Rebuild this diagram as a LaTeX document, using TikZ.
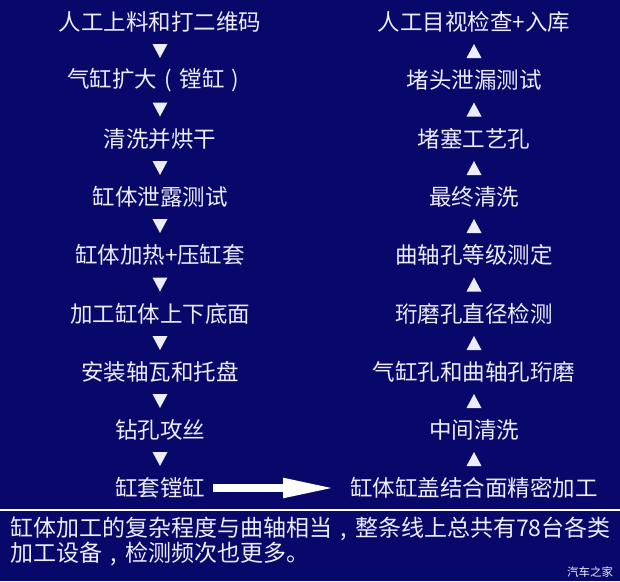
\documentclass[tikz,border=0pt]{standalone}
\usepackage{fontspec}
\usepackage{tikz}
\usetikzlibrary{arrows.meta}
\newfontfamily\cjk{Noto Sans CJK SC}
\definecolor{navybg}{RGB}{8,8,106}
\definecolor{txtwhite}{RGB}{236,236,250}
\tikzset{
  steptext/.style={text=txtwhite, inner sep=0pt, font=\cjk\fontsize{22.5}{26}\selectfont},
  notetext/.style={text=txtwhite, inner sep=0pt, anchor=west, font=\cjk\fontsize{23}{27}\selectfont},
  marker/.style={fill=txtwhite},
  bigarrow/.style={draw=white, line width=8pt, -{Triangle[length=53pt, width=18pt]}}
}

\begin{document}
\begin{tikzpicture}[x=1pt, y=-1pt]

  % Background
  \fill[navybg] (0,0) rectangle (620,581);
  \useasboundingbox (0,0) rectangle (620,581);

  % Left column (top to bottom)
  \node[steptext] (l1) at (160,22)  {人工上料和打二维码};
  \node[steptext] (l2) at (157,80)  {气缸扩大\makebox[1em]{(}镗缸\makebox[1em]{)}};
  \node[steptext] (l3) at (160,139) {清洗并烘干};
  \node[steptext] (l4) at (160,197) {缸体泄露测试};
  \node[steptext] (l5) at (160,255) {缸体加热+压缸套};
  \node[steptext] (l6) at (160,314) {加工缸体上下底面};
  \node[steptext] (l7) at (160,372) {安装轴瓦和托盘};
  \node[steptext] (l8) at (160,430) {钻孔攻丝};
  \node[steptext] (l9) at (160,488) {缸套镗缸};

  % Down markers
  \fill[marker] (152.5,44)  -- ++(15,0) -- ++(-7.5,14) -- cycle;
  \fill[marker] (152.5,102.5) -- ++(15,0) -- ++(-7.5,14) -- cycle;
  \fill[marker] (152.5,161) -- ++(15,0) -- ++(-7.5,14) -- cycle;
  \fill[marker] (152.5,219) -- ++(15,0) -- ++(-7.5,14) -- cycle;
  \fill[marker] (152.5,277.5) -- ++(15,0) -- ++(-7.5,14) -- cycle;
  \fill[marker] (152.5,336) -- ++(15,0) -- ++(-7.5,14) -- cycle;
  \fill[marker] (152.5,394) -- ++(15,0) -- ++(-7.5,14) -- cycle;
  \fill[marker] (152.5,452) -- ++(15,0) -- ++(-7.5,14) -- cycle;

  % Right column (bottom to top)
  \node[steptext] (r9) at (474,488) {缸体缸盖结合面精密加工};
  \node[steptext] (r8) at (474,430) {中间清洗};
  \node[steptext] (r7) at (474,372) {气缸孔和曲轴孔珩磨};
  \node[steptext] (r6) at (474,314) {珩磨孔直径检测};
  \node[steptext] (r5) at (474,255) {曲轴孔等级测定};
  \node[steptext] (r4) at (474,197) {最终清洗};
  \node[steptext] (r3) at (474,139) {堵塞工艺孔};
  \node[steptext] (r2) at (474,80)  {堵头泄漏测试};
  \node[steptext] (r1) at (474,22)  {人工目视检查+入库};

  % Up markers
  \fill[marker] (466.5,58)  -- ++(15,0) -- ++(-7.5,-14) -- cycle;
  \fill[marker] (466.5,116.5) -- ++(15,0) -- ++(-7.5,-14) -- cycle;
  \fill[marker] (466.5,175) -- ++(15,0) -- ++(-7.5,-14) -- cycle;
  \fill[marker] (466.5,233) -- ++(15,0) -- ++(-7.5,-14) -- cycle;
  \fill[marker] (466.5,291.5) -- ++(15,0) -- ++(-7.5,-14) -- cycle;
  \fill[marker] (466.5,350) -- ++(15,0) -- ++(-7.5,-14) -- cycle;
  \fill[marker] (466.5,408) -- ++(15,0) -- ++(-7.5,-14) -- cycle;
  \fill[marker] (466.5,466) -- ++(15,0) -- ++(-7.5,-14) -- cycle;

  % Crossover arrow
  \draw[bigarrow, shorten <=8pt, shorten >=14pt] (l9) -- (r9);

  % Separator
  \draw[white, line width=2pt] (0,510) -- (620,510);

  % Note
  \node[notetext] (n1) at (10,529) {缸体加工的复杂程度与曲轴相当\makebox[1em]{,}整条线上总共有78台各类};
  \node[notetext] (n2) at (10,554) {加工设备\makebox[1em]{,}检测频次也更多。};

  % Watermark
  \node[text=txtwhite, inner sep=0pt, font=\cjk\fontsize{11.5}{13}\selectfont] (wm) at (590,572) {汽车之家};

\end{tikzpicture}
\end{document}
